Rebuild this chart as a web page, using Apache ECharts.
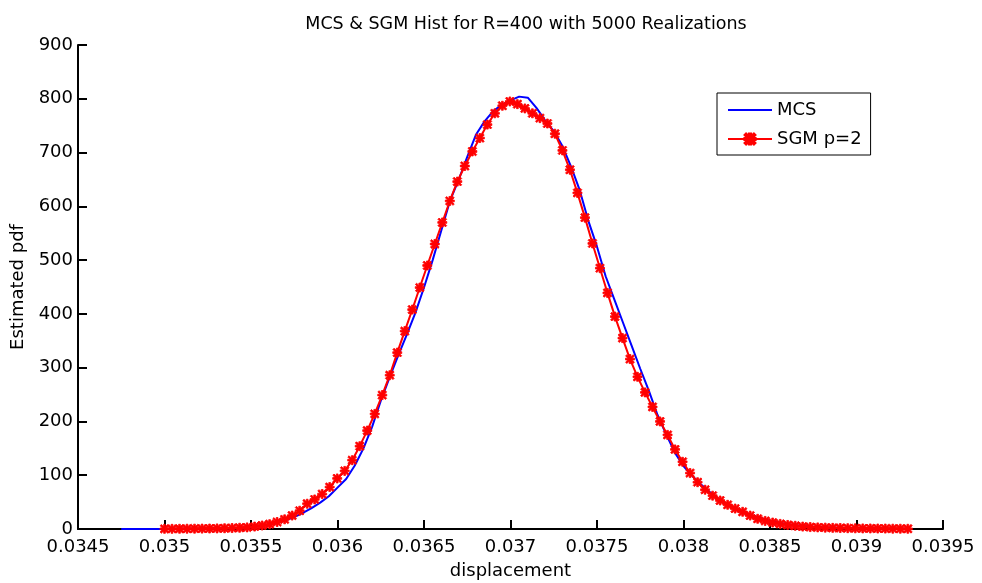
<!DOCTYPE html>
<html>
<head>
<meta charset="utf-8">
<script src="https://cdn.jsdelivr.net/npm/echarts@6/dist/echarts.min.js"></script>
<style>html,body{margin:0;padding:0;background:#fff;}#chart{width:982px;height:583px;}</style>
</head>
<body>
<div id="chart"></div>
<script>
// ---- data ----
var titleText = 'MCS & SGM Hist for R=400 with 5000 Realizations';
var xName = 'displacement';
var yName = 'Estimated pdf';
var seriesNames = ['MCS', 'SGM p=2'];
var xTickLabels = ['0.0345','0.035','0.0355','0.036','0.0365','0.037','0.0375','0.038','0.0385','0.039','0.0395'];
var yTickLabels = ['0','100','200','300','400','500','600','700','800','900'];

var mcsX = [0.03475,0.0348,0.03485,0.0349,0.03495,0.0350,0.03505,0.0351,0.03515,0.0352,0.03525,0.0353,0.03535,0.0354,0.03545,
0.0355,0.03555,0.0356,0.03565,0.0357,0.03575,0.0358,0.03585,0.0359,0.03595,0.0360,0.03605,0.0361,0.03615,0.0362,0.03625,
0.0363,0.03635,0.0364,0.03645,0.0365,0.03655,0.0366,0.03665,0.0367,0.03675,0.0368,0.03685,0.0369,0.03695,0.0370,0.03705,
0.0371,0.03715,0.0372,0.03725,0.0373,0.03735,0.0374,0.03745,0.0375,0.03755,0.0376,0.03765,0.0377,0.03775,0.0378,0.03785,
0.0379,0.03795,0.0380,0.03805,0.0381,0.03815,0.0382,0.03825,0.0383,0.03835,0.0384,0.03845,0.0385,0.03855,0.0386,0.03865,
0.0387,0.03875,0.0388,0.03885,0.0389,0.03895,0.0390,0.03905,0.0391,0.03915,0.0392,0.03925,0.0393];
var mcsY = [0,0,0,0,0,0.2,0.3,0.4,0.5,0.6,0.8,1,1.3,1.7,2.3,
3.2,5,7.5,11,16,22,30,39,49,61,77,93,118,150,190,238,
281,322,361,402,449,500,555,610,649,692,733,758,777,789,797,804,
802,783,760,740,712,674,630,573,525,470,427,384,341,298,257,212,
176,142,117,99,83,69,57,47,38,31,25,20,15,12,9,7,
5.5,4.3,3.4,2.7,2.2,1.8,1.5,1.2,1,0.8,0.6,0.5,0.4];

var sgmX = [0.0350000,0.0350434,0.0350868,0.0351302,0.0351736,0.0352170,0.0352604,0.0353038,0.0353472,0.0353906,
0.0354340,0.0354774,0.0355208,0.0355642,0.0356076,0.0356510,0.0356944,0.0357378,0.0357812,0.0358246,
0.0358680,0.0359114,0.0359548,0.0359982,0.0360416,0.0360850,0.0361284,0.0361718,0.0362152,0.0362586,
0.0363020,0.0363454,0.0363888,0.0364322,0.0364756,0.0365190,0.0365624,0.0366058,0.0366492,0.0366926,
0.0367360,0.0367794,0.0368228,0.0368662,0.0369096,0.0369530,0.0369964,0.0370398,0.0370832,0.0371266,
0.0371700,0.0372134,0.0372568,0.0373002,0.0373436,0.0373870,0.0374304,0.0374738,0.0375172,0.0375606,
0.0376040,0.0376474,0.0376908,0.0377342,0.0377776,0.0378210,0.0378644,0.0379078,0.0379512,0.0379946,
0.0380380,0.0380814,0.0381248,0.0381682,0.0382116,0.0382550,0.0382984,0.0383418,0.0383852,0.0384286,
0.0384720,0.0385154,0.0385588,0.0386022,0.0386456,0.0386890,0.0387324,0.0387758,0.0388192,0.0388626,
0.0389060,0.0389494,0.0389928,0.0390362,0.0390796,0.0391230,0.0391664,0.0392098,0.0392532,0.0392966];
var sgmY = [0.3,0.3,0.4,0.5,0.6,0.7,0.9,1.1,1.4,1.8,
2.3,3,4.5,6.5,9,13,18,25,34,47,
55,65,78,94,108,128,154,183,214,249,
286,328,368,408,449,490,530,570,610,646,
675,702,727,752,773,787,795,790,782,773,
764,754,735,704,668,625,579,531,485,439,
395,355,316,283,254,227,200,175,148,125,
104,87,73,62,53,45,38,32,25,19,
15,12,9.5,7.5,6,4.5,3.6,3,2.5,2.1,
1.8,1.5,1.3,1.1,1,0.9,0.8,0.6,0.5,0.4];

function pairs(xs, ys) { return xs.map(function (x, i) { return [x, ys[i]]; }); }

var FONT = 'DejaVu Sans';
var starPath = 'path://M-1,-5L1,-5L1,5L-1,5Z M-5,-1L5,-1L5,1L-5,1Z M-3.5,-4.9L4.9,3.5L3.5,4.9L-4.9,-3.5Z M3.5,-4.9L4.9,-3.5L-3.5,4.9L-4.9,3.5Z';

var chart = echarts.init(document.getElementById('chart'), null, {renderer: 'canvas'});
chart.setOption({
  backgroundColor: '#ffffff',
  animation: false,
  title: {
    text: titleText, left: 521, top: 10, textAlign: 'center',
    textStyle: {fontFamily: FONT, fontSize: 17.5, fontWeight: 'normal', color: '#000'}
  },
  legend: {
    orient: 'vertical', left: 717, top: 93,
    padding: [8, 9, 7, 10], itemGap: 11, itemWidth: 44, itemHeight: 14,
    borderColor: '#000', borderWidth: 1, backgroundColor: '#fff',
    textStyle: {fontFamily: FONT, fontSize: 18, color: '#000'},
    data: [
      {name: seriesNames[0], itemStyle: {color: 'rgba(0,0,0,0)', borderWidth: 0, opacity: 0}},
      {name: seriesNames[1]}
    ]
  },
  grid: {left: 78, right: 39, top: 45, bottom: 54, containLabel: false, outerBoundsMode: 'none'},
  xAxis: {
    type: 'value', min: 0.0345, max: 0.0395, interval: 0.0005,
    name: xName, nameLocation: 'middle', nameGap: 33,
    nameTextStyle: {fontFamily: FONT, fontSize: 18, color: '#000'},
    axisLine: {lineStyle: {color: '#000', width: 2}},
    axisTick: {inside: true, length: 9, lineStyle: {color: '#000', width: 2}},
    axisLabel: {
      fontFamily: FONT, fontSize: 18, color: '#000', margin: 9,
      formatter: function (v) { return xTickLabels[Math.round((v - 0.0345) / 0.0005)]; }
    },
    splitLine: {show: false}
  },
  yAxis: {
    type: 'value', min: 0, max: 900, interval: 100,
    name: yName, nameLocation: 'middle', nameGap: 47,
    nameTextStyle: {fontFamily: FONT, fontSize: 18, color: '#000'},
    axisLine: {show: true, lineStyle: {color: '#000', width: 2}},
    axisTick: {show: true, inside: true, length: 9, lineStyle: {color: '#000', width: 2}},
    axisLabel: {
      fontFamily: FONT, fontSize: 18, color: '#000', margin: 5,
      formatter: function (v) { return yTickLabels[Math.round(v / 100)]; }
    },
    splitLine: {show: false}
  },
  series: [
    {
      name: seriesNames[0], type: 'line', data: pairs(mcsX, mcsY),
      showSymbol: false, symbol: 'none', smooth: false,
      lineStyle: {color: '#0000ff', width: 2}, itemStyle: {color: '#0000ff'}
    },
    {
      name: seriesNames[1], type: 'line', data: pairs(sgmX, sgmY),
      symbol: starPath, symbolSize: 9, showSymbol: true,
      lineStyle: {color: '#ff0000', width: 2},
      itemStyle: {color: '#ff0000', borderColor: '#ff0000', borderWidth: 0.8}
    }
  ]
});
</script>
</body>
</html>
